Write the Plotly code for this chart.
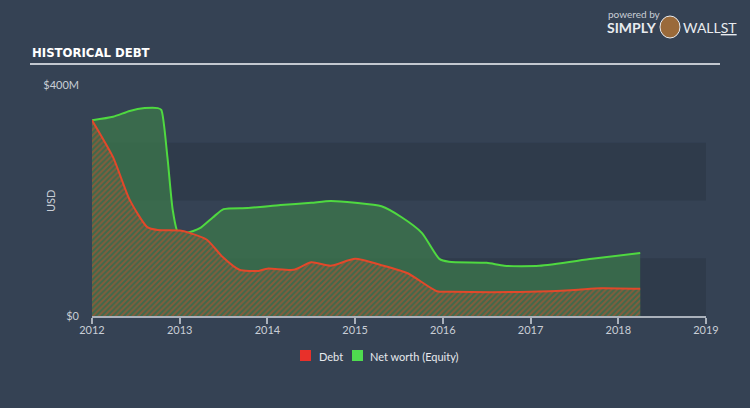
import plotly.graph_objects as go

debt_x = [2012.0, 2012.24, 2012.43, 2012.63, 2012.75, 2013.0, 2013.11, 2013.31, 2013.49, 2013.68,
          2013.9, 2014.0, 2014.3, 2014.5, 2014.72, 2015.0, 2015.3, 2015.6, 2015.93, 2016.1,
          2017.0, 2017.5, 2017.8, 2018.25]
debt_y = [339, 275, 201, 154, 149, 148, 144, 132, 102, 80,
          78, 82, 80, 93, 87, 99, 88, 74, 43, 42,
          42, 45, 48, 47]

eq_x = [2012.0, 2012.24, 2012.43, 2012.6, 2012.75, 2012.79, 2012.86, 2012.92, 2012.98, 2013.08,
        2013.23, 2013.38, 2013.5, 2013.77, 2014.15, 2014.5, 2014.72, 2015.0, 2015.3, 2015.53,
        2015.76, 2015.96, 2016.07, 2016.5, 2016.7, 2017.1, 2017.7, 2018.25]
eq_y = [339, 345, 355, 360, 360, 357, 275, 184, 145, 144,
        152, 171, 185, 187, 192, 196, 199, 196, 190, 171,
        144, 99, 94, 92, 87, 87, 99, 109]

year_ticks = [2012, 2013, 2014, 2015, 2016, 2017, 2018, 2019]
y_ticks = [0, 400]
y_labels = ["$0", "$400M"]
legend_names = ["Debt", "Net worth (Equity)"]
legend_colors = ["#e8302a", "#4fdc4f"]

BG = "#354254"
DARK = "#2f3b4b"
TXT = "#c9ced6"

# plot area in pixels: left 92, right 706, top 85, bottom 316
PL, PR, PT, PB = 92, 706, 85, 316
PW, PH = PR - PL, PB - PT


def px(x):
    return (x - PL) / PW


def py(y):
    return (PB - y) / PH


fig = go.Figure()

fig.add_trace(go.Scatter(
    x=eq_x, y=eq_y, mode="lines", fill="tozeroy",
    line=dict(color="#4fd940", width=2, shape="spline", smoothing=0.6),
    fillcolor="rgba(60,120,75,0.75)", showlegend=False, hoverinfo="skip"))

fig.add_trace(go.Scatter(
    x=debt_x, y=debt_y, mode="lines", fill="tozeroy",
    line=dict(color="#e2482a", width=2, shape="spline", smoothing=0.6),
    fillcolor="#4a5f48",
    fillpattern=dict(shape="/", fgcolor="#c8502c", bgcolor="#3e6a4c", size=4, solidity=0.5),
    showlegend=False, hoverinfo="skip"))

shapes = [
    dict(type="rect", xref="paper", yref="y", x0=0, x1=1, y0=0, y1=100,
         fillcolor=DARK, line=dict(width=0), layer="below"),
    dict(type="rect", xref="paper", yref="y", x0=0, x1=1, y0=200, y1=300,
         fillcolor=DARK, line=dict(width=0), layer="below"),
    dict(type="line", xref="paper", yref="paper", x0=px(30), x1=px(720),
         y0=py(64), y1=py(64), line=dict(color="#c3c8d0", width=2)),
    dict(type="circle", xref="paper", yref="paper", x0=px(660), x1=px(680),
         y0=py(38), y1=py(16), fillcolor="#9a6a3a", line=dict(color="#e8ebef", width=1)),
]

annotations = [
    dict(text="HISTORICAL DEBT", xref="paper", yref="paper", x=px(30), y=py(52),
         xanchor="left", yanchor="middle", showarrow=False,
         font=dict(family="DejaVu Sans Condensed, Liberation Sans Narrow, sans-serif",
                   size=13, color="#ffffff", weight="bold")),
    dict(text="powered by", xref="paper", yref="paper", x=px(606), y=py(14),
         xanchor="left", yanchor="middle", showarrow=False,
         font=dict(family="Lato, sans-serif", size=10, color="#c9ced6")),
    dict(text="<b>SIMPLY</b>", xref="paper", yref="paper", x=px(605), y=py(27),
         xanchor="left", yanchor="middle", showarrow=False,
         font=dict(family="Lato, sans-serif", size=14, color="#e8ebef")),
    dict(text="WALL<u>ST</u>", xref="paper", yref="paper", x=px(681), y=py(27),
         xanchor="left", yanchor="middle", showarrow=False,
         font=dict(family="Lato, sans-serif", size=14, color="#e8ebef")),
    dict(text="USD", xref="paper", yref="paper", x=px(50), y=py(201),
         xanchor="center", yanchor="middle", showarrow=False, textangle=-90,
         font=dict(family="Lato, sans-serif", size=11, color=TXT)),
]

# manual legend
lg_sq_x = [300, 352]
lg_txt_x = [317, 368]
for name, col, sx, tx in zip(legend_names, legend_colors, lg_sq_x, lg_txt_x):
    shapes.append(dict(type="rect", xref="paper", yref="paper", x0=px(sx), x1=px(sx + 11),
                       y0=py(361), y1=py(350), fillcolor=col, line=dict(width=0)))
    annotations.append(dict(text=name, xref="paper", yref="paper", x=px(tx), y=py(356),
                            xanchor="left", yanchor="middle", showarrow=False,
                            font=dict(family="Lato, sans-serif", size=11, color="#e6e9ed")))

fig.update_layout(
    width=750, height=408,
    margin=dict(l=PL, r=750 - PR, t=PT, b=408 - PB),
    paper_bgcolor=BG, plot_bgcolor=BG,
    shapes=shapes, annotations=annotations,
    showlegend=False,
    xaxis=dict(range=[2012, 2019], tickvals=year_ticks, ticktext=[str(v) for v in year_ticks],
               showgrid=False, zeroline=False, showline=True, linecolor="#aab1bb", linewidth=1.5,
               ticks="outside", ticklen=6, tickcolor="#aab1bb", tickwidth=1.5,
               ticklabelstandoff=-3,
               tickfont=dict(family="Lato, sans-serif", size=11, color=TXT)),
    yaxis=dict(range=[0, 400], tickvals=y_ticks, ticktext=y_labels,
               showgrid=False, zeroline=False, showline=False, ticks="",
               ticklabelstandoff=12,
               tickfont=dict(family="Lato, sans-serif", size=11, color=TXT)),
)

fig.write_html("out.html")
